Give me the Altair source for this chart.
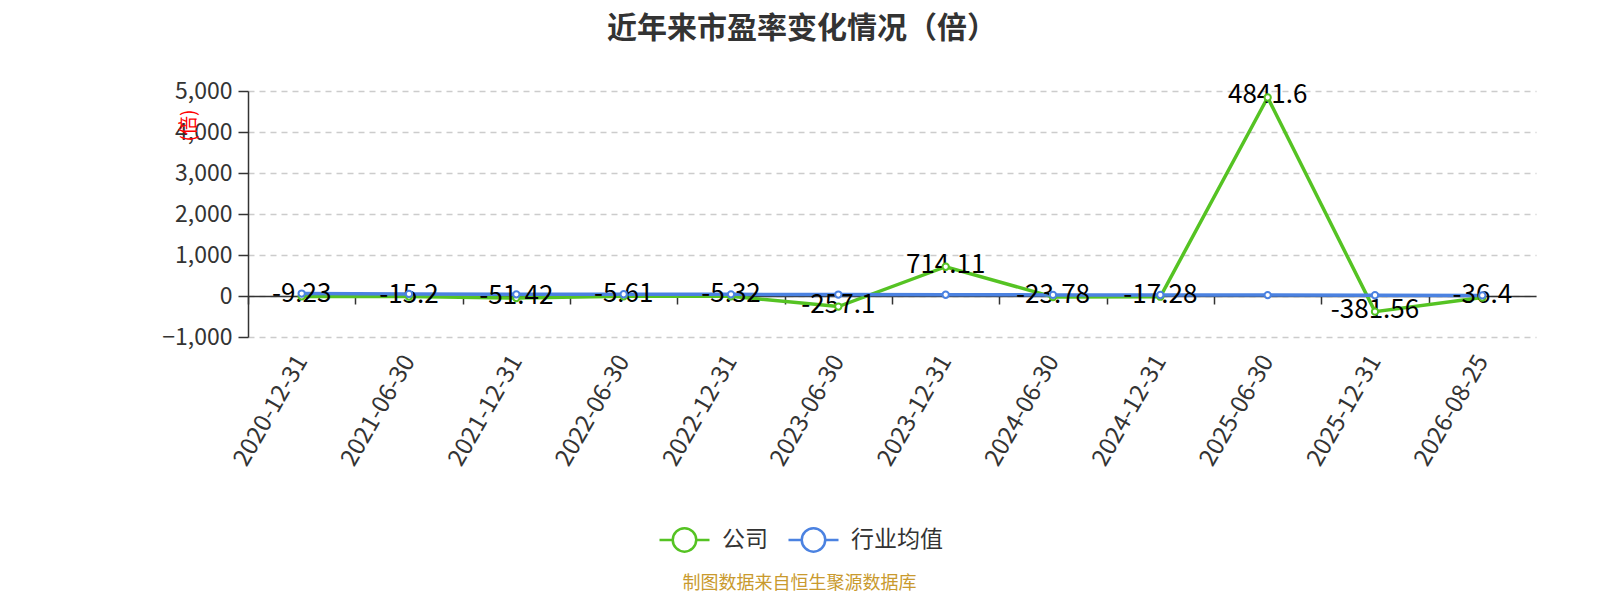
import altair as alt
import pandas as pd

dates = ["2020-12-31", "2021-06-30", "2021-12-31", "2022-06-30", "2022-12-31", "2023-06-30",
         "2023-12-31", "2024-06-30", "2024-12-31", "2025-06-30", "2025-12-31", "2026-08-25"]
company = [-9.23, -15.2, -51.42, -5.61, -5.32, -257.1, 714.11, -23.78, -17.28, 4841.6, -381.56, -36.4]
company_labels = ["-9.23", "-15.2", "-51.42", "-5.61", "-5.32", "-257.1", "714.11", "-23.78",
                  "-17.28", "4841.6", "-381.56", "-36.4"]
industry = [60, 50, 40, 42, 40, 35, 30, 27, 25, 22, 18, 15]

series_names = ["公司", "行业均值"]
series_colors = ["#55c323", "#4b82e1"]
y_ticks = [-1000, 0, 1000, 2000, 3000, 4000, 5000]

rows = []
for d, v, lab in zip(dates, company, company_labels):
    rows.append({"date": d, "value": v, "series": "公司", "label": lab})
for d, v in zip(dates, industry):
    rows.append({"date": d, "value": v, "series": "行业均值", "label": ""})
df = pd.DataFrame(rows)

FONT = "Noto Sans CJK SC"
W, H = 1288, 246
step = W / len(dates)

legend_path = ("M-1,0 L-0.47,0 M0.47,0 L1,0 "
               "M-0.47,0 A0.47,0.47 0 1,1 0.47,0 A0.47,0.47 0 1,1 -0.47,0 Z")

x_enc = alt.X(
    "date:N", sort=dates,
    axis=alt.Axis(
        title="制图数据来自恒生聚源数据库",
        titleFont=FONT, titleFontSize=18, titleFontWeight="normal", titleColor="#c99a2e",
        titleX=551, titleY=287, titleAlign="center", titleBaseline="middle", titleAngle=0,
        offset=-41, domainColor="#333333", domainWidth=1.5,
        ticks=True, tickColor="#333333", tickSize=8, tickWidth=1.5,
        tickOffset=-step / 2, labelOffset=step / 2,
        labelAngle=-60, labelAlign="right", labelBaseline="middle",
        labelPadding=53, labelFont=FONT, labelFontSize=24, labelColor="#333333",
        grid=False,
    ),
)

y_enc = alt.Y(
    "value:Q",
    scale=alt.Scale(domain=[-1000, 5000], nice=False, zero=False),
    axis=alt.Axis(
        values=y_ticks, format=",d",
        title="(倍)", titleFont=FONT, titleFontSize=19, titleFontWeight="normal",
        titleColor="#ff0000", titleX=-60, titleY=34, titleAngle=-90,
        titleAlign="center", titleBaseline="middle",
        domainColor="#333333", domainWidth=1.5,
        tickColor="#333333", tickSize=10, tickWidth=1.5,
        labelFont=FONT, labelFontSize=23, labelColor="#333333", labelPadding=6,
        grid=True, gridColor="#cccccc", gridDash=[6, 5], gridWidth=1.5,
    ),
)

color_scale = alt.Scale(domain=series_names, range=series_colors)

lines = alt.Chart(df).mark_line(strokeWidth=3.5).encode(
    x=x_enc, y=y_enc,
    color=alt.Color(
        "series:N", scale=color_scale,
        legend=alt.Legend(
            title=None, orient="none", legendX=410, legendY=422, direction="horizontal",
            symbolType=legend_path, symbolSize=2500, symbolStrokeWidth=2.5,
            symbolFillColor="white",
            labelFont=FONT, labelFontSize=23, labelColor="#333333",
            labelOffset=11, columnPadding=15, padding=0,
        ),
    ),
)

labels = alt.Chart(df).transform_filter(alt.datum.series == "公司").mark_text(
    font=FONT, fontSize=26, color="#000000", align="center", baseline="middle", dy=-2
).encode(x=alt.X("date:N", sort=dates), y="value:Q", text="label:N")

points = alt.Chart(df).mark_point(
    filled=False, fill="white", fillOpacity=1, opacity=1, size=40, strokeWidth=2
).encode(
    x=alt.X("date:N", sort=dates), y="value:Q",
    color=alt.Color("series:N", scale=color_scale, legend=None),
)

chart = alt.layer(lines, labels, points).properties(
    width=W, height=H,
    autosize=alt.AutoSizeParams(type="none"),
    padding={"left": 240, "top": 83, "right": 56, "bottom": 255},
    title=alt.TitleParams(
        "近年来市盈率变化情况（倍）", font=FONT, fontSize=30, fontWeight="bold",
        color="#333333", anchor="middle", frame="group", dx=-90, offset=36,
    ),
).configure(
    background="white",
    view=alt.ViewConfig(strokeWidth=0, stroke="transparent"),
)

chart.save("out.html", embed_options={"renderer": "svg", "actions": False})
